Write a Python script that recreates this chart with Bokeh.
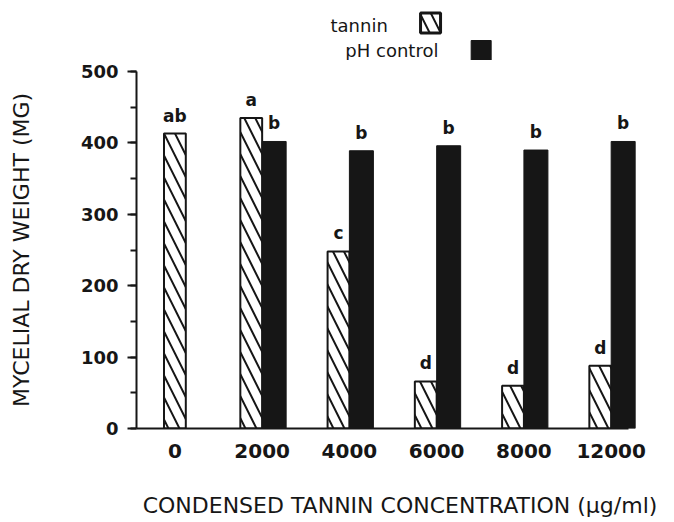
import numpy as np
from bokeh.plotting import figure
from bokeh.layouts import column
from bokeh.models import ColumnDataSource, Range1d, FixedTicker, SingleIntervalTicker
from bokeh.embed import file_html
from bokeh.resources import INLINE
from bokeh.core.properties import value

# ---- data ----
categories = ["0", "2000", "4000", "6000", "8000", "12000"]
tannin = [413, 435, 248, 66, 60, 88]
ph_control = [None, 402, 389, 396, 390, 402]
tannin_letters = ["ab", "a", "c", "d", "d", "d"]
ph_letters = [None, "b", "b", "b", "b", "b"]
series_names = ["tannin", "pH control"]

FONT = "DejaVu Sans"
INK = "#161616"
W_T = 0.25
W_P = 0.275
FIG_W = 670
LEG_H = 60

idx = np.arange(len(categories))
has_ph = np.array([v is not None for v in ph_control])
t_x = idx - np.where(has_ph, W_T / 2, 0.0)
p_x = idx[has_ph] + W_P / 2

t_src = ColumnDataSource(dict(x=t_x, top=tannin, lab=tannin_letters))
p_src = ColumnDataSource(dict(x=p_x,
                              top=[v for v in ph_control if v is not None],
                              lab=[l for l in ph_letters if l]))

# frame runs to the right edge; the axis line itself stops at AXIS_END
AXIS_START, AXIS_END = -0.44, 5.2
x_range = Range1d(AXIS_START, 5.68)
HATCH = dict(hatch_pattern="\\", hatch_scale=22, hatch_weight=2, hatch_color=INK)

# ---------------- legend strip (labels left of their swatches) ----------------
leg = figure(width=FIG_W, height=LEG_H, x_range=x_range, y_range=Range1d(0, LEG_H),
             x_axis_location=None, y_axis_location=None, output_backend="svg",
             toolbar_location=None, min_border_left=136, min_border_right=0,
             min_border_top=0, min_border_bottom=0)
leg.outline_line_color = None
leg.grid.visible = False
leg_src = ColumnDataSource(dict(tx=[2.44, 3.02], ty=[35, 10], label=series_names))
leg.text(x="tx", y="ty", text="label", source=leg_src, text_align="right",
         text_baseline="middle", text_font=value(FONT), text_font_size="18px",
         text_color=INK)
leg.scatter(x=[2.93], y=[37.5], marker="square", size=20, fill_color="white",
            line_color=INK, line_width=3, **HATCH)
leg.scatter(x=[3.51], y=[10], marker="square", size=20, fill_color=INK,
            line_color=INK, line_width=1)

# ---------------- main chart ----------------
p = figure(width=FIG_W, height=370 + 90, x_range=x_range, y_range=Range1d(0, 500),
           output_backend="svg", toolbar_location=None,
           min_border_left=136, min_border_right=0, min_border_top=11, min_border_bottom=90)
p.outline_line_color = None
p.grid.visible = False

p.vbar(x="x", top="top", width=W_T, source=t_src, fill_color="white",
       line_color=INK, line_width=2, **HATCH)
p.vbar(x="x", top="top", width=W_P, source=p_src, fill_color=INK,
       line_color=INK, line_width=1)

for src in (t_src, p_src):
    p.text(x="x", y="top", text="lab", source=src, text_align="center",
           text_baseline="bottom", y_offset=-8, text_font=value(FONT),
           text_font_style="bold", text_font_size="17px", text_color=INK)

# x axis
xa = p.xaxis[0]
xa.bounds = (AXIS_START, AXIS_END)
xa.ticker = FixedTicker(ticks=[int(i) for i in idx])
xa.major_label_overrides = {int(i): c for i, c in zip(idx, categories)}
xa.major_tick_out = 0
xa.major_tick_in = 0
xa.minor_tick_out = 0
xa.minor_tick_in = 0
xa.axis_line_width = 2
xa.axis_line_color = INK
xa.major_label_standoff = 15
xa.major_label_text_font = FONT
xa.major_label_text_font_style = "bold"
xa.major_label_text_font_size = "20px"
xa.major_label_text_color = INK
xa.axis_label = "CONDENSED TANNIN CONCENTRATION  (\u03bcg/ml)"
xa.axis_label_text_font = FONT
xa.axis_label_text_font_style = "normal"
xa.axis_label_text_font_size = "22px"
xa.axis_label_text_color = INK
xa.axis_label_standoff = 32

# y axis
ya = p.yaxis[0]
ya.ticker = SingleIntervalTicker(interval=100, num_minor_ticks=2)
ya.major_tick_out = 9
ya.major_tick_in = 0
ya.minor_tick_out = 6
ya.minor_tick_in = 0
ya.major_tick_line_width = 2
ya.minor_tick_line_width = 2
ya.major_tick_line_color = INK
ya.minor_tick_line_color = INK
ya.axis_line_width = 2
ya.axis_line_color = INK
ya.major_label_standoff = 9
ya.major_label_text_font = FONT
ya.major_label_text_font_style = "bold"
ya.major_label_text_font_size = "18px"
ya.major_label_text_color = INK
ya.axis_label = "MYCELIAL DRY WEIGHT (MG)"
ya.axis_label_text_font = FONT
ya.axis_label_text_font_style = "normal"
ya.axis_label_text_font_size = "22px"
ya.axis_label_text_color = INK
ya.axis_label_standoff = 44

open("out.html", "w").write(file_html(column(leg, p), INLINE))
